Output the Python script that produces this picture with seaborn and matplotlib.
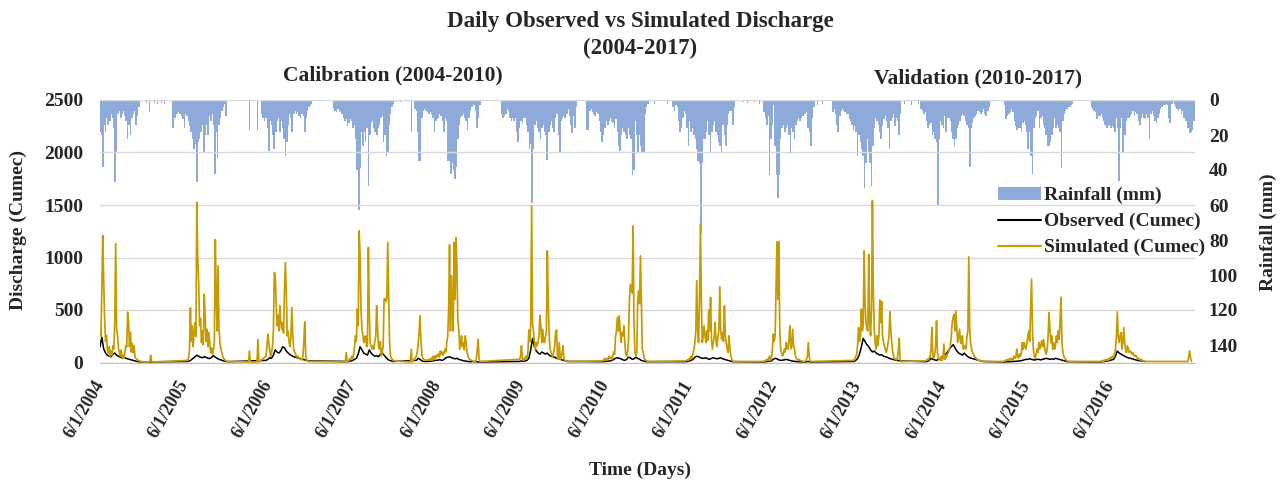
import numpy as np
import pandas as pd
import matplotlib
matplotlib.use('Agg')
import matplotlib.pyplot as plt
from matplotlib.patches import Patch
from matplotlib.lines import Line2D
import seaborn as sns

# day 0 = 6/1/2004, series (one list per wet season)
START = pd.Timestamp('2004-06-01')

# simulated discharge (cumec), one value every 4 days from the season start day
sim_start = [0, 380, 720, 1080, 1372, 1820, 2180, 2540, 2880, 3270, 3580, 3920, 4340]
sim_2004 = [300, 250, 700, 1210, 780, 420, 200, 260, 120, 90, 150, 60, 110, 70, 160, 130, 380, 1130, 320, 260,
            140, 90, 60, 120, 50, 70, 40, 90, 160, 150, 480, 380, 150, 290, 100, 180, 90, 160, 50, 40,
            30, 20, 20, 15, 10, 10, 8, 8, 6, 6, 5, 5, 5, 5, 10, 70, 10, 5]
sim_2005 = [20, 40, 120, 520, 200, 350, 150, 280, 380, 250, 1525, 1000, 760, 350, 420, 190, 300, 170, 650, 445,
            200, 317, 150, 285, 190, 95, 140, 80, 120, 200, 1170, 635, 300, 920, 317, 190, 130, 95, 63, 40,
            30, 20, 15, 10, 10]
sim_2006 = [60, 150, 270, 190, 120, 60, 90, 150, 300, 857, 825, 570, 350, 450, 300, 540, 380, 317, 380, 280,
            700, 952, 667, 254, 300, 190, 150, 250, 524, 254, 127, 100, 80, 60, 50, 60, 40, 30, 30, 25,
            60, 200, 387, 80, 20, 15, 10]
sim_2007 = [20, 40, 30, 60, 40, 80, 150, 254, 200, 508, 350, 1254, 1000, 508, 317, 260, 190, 240, 254, 150,
            160, 1095, 476, 190, 150, 127, 160, 127, 200, 250, 540, 317, 150, 127, 200, 63, 100, 150, 603, 610,
            580, 610, 1143, 635, 190, 63, 40, 30, 20, 15]
sim_2008 = [60, 100, 175, 300, 445, 200, 80, 40, 30, 20, 25, 20, 25, 20, 30, 25, 40, 20, 60, 30,
            63, 40, 70, 60, 80, 50, 110, 80, 100, 70, 90, 127, 100, 190, 250, 500, 1120, 300, 825, 508,
            300, 1143, 600, 1190, 920, 400, 317, 127, 180, 254, 150, 190, 120, 254, 190, 100, 60, 40, 30, 25,
            20, 15, 10, 10, 10, 30, 120, 222, 30, 10]
sim_2009 = [30, 63, 160, 30, 20, 40, 30, 60, 40, 100, 310, 200, 350, 1490, 365, 300, 200, 127, 190, 160,
            200, 254, 450, 350, 190, 317, 200, 190, 250, 300, 1063, 603, 254, 127, 100, 63, 60, 100, 160, 286,
            310, 60, 30, 190, 30, 40, 95, 160, 40, 20, 15, 10, 10]
sim_2010 = [15, 20, 40, 30, 20, 40, 30, 60, 40, 50, 30, 60, 100, 80, 250, 300, 430, 300, 445, 300,
            190, 286, 254, 350, 190, 80, 60, 100, 200, 600, 745, 700, 660, 1300, 350, 95, 63, 100, 587, 680,
            560, 1016, 570, 127, 95, 40, 30, 20, 15, 10]
sim_2011 = [15, 20, 25, 20, 40, 30, 60, 40, 95, 120, 190, 300, 780, 317, 190, 600, 1318, 600, 190, 250,
            350, 254, 190, 300, 210, 500, 300, 620, 220, 127, 190, 254, 380, 190, 150, 250, 300, 724, 317, 220,
            286, 200, 540, 254, 190, 127, 95, 254, 127, 60, 30, 15, 10]
sim_2012 = [10, 20, 15, 30, 20, 40, 60, 20, 40, 120, 270, 200, 254, 700, 1150, 600, 1150, 317, 127, 95,
            63, 80, 127, 100, 190, 130, 127, 220, 350, 130, 150, 317, 160, 127, 63, 40, 30, 20, 30, 20,
            15, 15, 10, 10, 10, 15, 30, 60, 190, 60, 10]
sim_2013 = [20, 40, 60, 80, 175, 333, 200, 250, 508, 300, 350, 1063, 570, 380, 317, 300, 1030, 400, 254, 500,
            1540, 667, 317, 190, 127, 254, 160, 254, 595, 380, 580, 254, 190, 160, 127, 95, 127, 190, 254, 482,
            300, 190, 95, 60, 40, 30, 25, 40, 100, 230, 30, 10]
sim_2014 = [15, 20, 30, 25, 40, 60, 120, 333, 60, 40, 80, 150, 397, 100, 40, 30, 20, 60, 20, 40,
            175, 30, 40, 60, 80, 100, 127, 160, 254, 380, 430, 460, 300, 490, 317, 190, 254, 317, 190, 180,
            254, 127, 150, 160, 127, 254, 300, 1006, 317, 190, 127, 95, 80, 60, 50, 40, 30, 25, 20, 20,
            15, 15, 10]
sim_2015 = [10, 20, 15, 25, 20, 30, 20, 40, 25, 40, 30, 60, 40, 50, 127, 60, 40, 80, 60, 95,
            190, 127, 190, 150, 127, 190, 254, 300, 200, 500, 794, 317, 127, 60, 40, 80, 127, 95, 190, 127,
            160, 206, 150, 220, 160, 100, 80, 127, 254, 476, 317, 190, 254, 127, 190, 127, 160, 254, 190, 300,
            220, 400, 620, 190, 95, 63, 40, 30, 20, 15, 10]
sim_2016 = [10, 15, 10, 20, 15, 30, 20, 30, 20, 40, 30, 50, 40, 60, 50, 80, 127, 250, 482, 254,
            190, 254, 286, 127, 190, 333, 190, 127, 95, 160, 127, 95, 110, 95, 80, 95, 63, 60, 70, 50,
            40, 40, 30, 25, 30, 20, 15, 10, 10]
# short dry-season flow blips (same 4-day step)
blip_start = [644, 681, 1064, 1346, 4718]
sim_blips = [[5, 110, 5], [5, 220, 5], [5, 95, 5], [5, 127, 5], [10, 63, 111, 40, 10]]

# observed discharge (cumec), one value every 8 days from the same season start days
obs_2004 = [150, 240, 130, 90, 70, 60, 55, 80, 90, 70, 60, 50, 45, 50, 40, 35, 30, 25, 20, 15, 10, 8, 5, 5]
obs_2005 = [10, 15, 25, 40, 55, 70, 60, 50, 45, 55, 50, 40, 38, 50, 65, 50, 40, 30, 25, 18, 12, 10, 8]
obs_2006 = [20, 30, 45, 40, 70, 120, 100, 90, 110, 150, 140, 110, 90, 75, 65, 55, 50, 45, 40, 35, 30, 25, 20, 15]
obs_2007 = [10, 15, 20, 30, 40, 80, 150, 120, 90, 80, 70, 120, 90, 70, 60, 65, 55, 80, 90, 70, 50, 30, 20, 15, 10]
obs_2008 = [20, 40, 30, 15, 10, 10, 10, 12, 15, 15, 20, 20, 25, 25, 20, 30, 45, 50, 55, 45, 40, 35, 40, 30,
            25, 20, 15, 12, 10, 8, 8, 10, 8, 6, 5, 5]
obs_2009 = [10, 15, 12, 15, 20, 40, 120, 230, 150, 110, 90, 80, 100, 90, 80, 90, 70, 60, 55, 50, 40, 35, 30,
            25, 20, 15, 10]
obs_2010 = [8, 10, 12, 15, 15, 20, 30, 40, 45, 40, 35, 25, 20, 30, 50, 45, 30, 35, 50, 40, 30, 20, 15, 10, 8]
obs_2011 = [8, 10, 15, 20, 30, 50, 60, 55, 45, 40, 40, 45, 35, 30, 40, 45, 40, 35, 40, 45, 35, 30, 25, 20,
            15, 10, 8]
obs_2012 = [5, 8, 10, 12, 15, 30, 40, 35, 25, 20, 22, 25, 30, 25, 20, 15, 12, 10, 8, 8, 6, 5, 5, 8, 10, 5]
obs_2013 = [10, 20, 40, 80, 150, 230, 200, 170, 150, 120, 100, 110, 90, 80, 70, 75, 60, 55, 50, 40, 35, 30,
            25, 20, 20, 15]
obs_2014 = [8, 10, 20, 40, 30, 25, 20, 30, 40, 50, 60, 80, 100, 130, 150, 170, 140, 110, 90, 80, 70, 90, 70,
            55, 45, 40, 35, 30, 25, 20, 15, 10]
obs_2015 = [5, 6, 8, 8, 10, 10, 12, 12, 15, 15, 20, 25, 30, 30, 35, 30, 25, 25, 30, 30, 25, 30, 35, 40, 35,
            30, 35, 30, 40, 35, 30, 25, 20, 15, 10, 8]
obs_2016 = [5, 8, 10, 12, 15, 20, 25, 30, 60, 110, 90, 80, 70, 60, 50, 45, 40, 35, 30, 25, 20, 18, 15, 12, 10]

# rainfall (mm), one value every 6 days from the season start day
rain_start = [0, 318, 702, 1014, 1366, 1742, 2112, 2486, 2880, 3178, 3562, 3924, 4300]
rain_2004 = [18, 20, 38, 14, 18, 10, 14, 12, 8, 10, 16, 47, 30, 8, 6, 10, 8, 6, 9, 12, 22, 14, 20, 10, 8, 6,
             14, 9, 4]
rain_2005 = [16, 10, 8, 8, 7, 8, 9, 11, 16, 8, 9, 12, 15, 18, 22, 28, 25, 47, 24, 22, 18, 14, 30, 20, 14, 20,
             9, 12, 8, 14, 42, 18, 33, 14, 10, 6, 4, 2, 9]
rain_2006 = [8, 10, 12, 10, 16, 29, 12, 14, 20, 28, 18, 12, 10, 18, 12, 16, 22, 32, 24, 14, 8, 10, 18, 8, 6,
             8, 7, 9, 10, 8, 9, 18, 10, 6, 4, 3, 2]
rain_2007 = [5, 6, 7, 5, 7, 6, 8, 10, 12, 11, 15, 13, 11, 12, 16, 14, 22, 40, 63, 39, 18, 26, 18, 24, 16, 49,
             20, 13, 12, 16, 18, 20, 16, 14, 10, 9, 24, 20, 32, 30, 14, 8, 4, 2]
rain_2008 = [5, 6, 18, 35, 35, 10, 6, 5, 6, 7, 8, 7, 8, 10, 18, 12, 11, 10, 8, 9, 12, 18, 10, 12, 35, 35, 42,
             36, 40, 45, 38, 22, 14, 10, 9, 8, 10, 12, 17, 10, 6, 4, 3, 3, 6, 16, 10, 3]
rain_2009 = [8, 10, 9, 8, 5, 6, 10, 12, 10, 12, 10, 18, 24, 16, 12, 13, 10, 10, 14, 18, 28, 25, 59, 28, 14, 12,
             16, 18, 22, 16, 14, 18, 20, 34, 18, 14, 12, 16, 18, 10, 8, 20, 30, 12, 10, 9, 10, 8, 5, 9, 14,
             19, 9, 16, 4]
rain_2010 = [17, 17, 6, 5, 7, 8, 9, 7, 8, 12, 18, 24, 20, 16, 12, 14, 12, 10, 12, 13, 16, 11, 18, 26, 29, 20,
             16, 18, 20, 22, 16, 20, 22, 43, 40, 12, 20, 30, 20, 26, 30, 30, 8, 4, 2]
rain_2011 = [4, 6, 3, 4, 12, 18, 16, 10, 6, 8, 16, 26, 12, 18, 16, 20, 22, 28, 35, 36, 76, 36, 22, 22, 18, 12,
             20, 30, 18, 14, 12, 18, 20, 24, 26, 30, 14, 20, 26, 14, 8, 6, 6, 14, 4]
rain_2012 = [7, 10, 14, 9, 43, 22, 14, 3, 26, 43, 56, 43, 22, 16, 14, 18, 16, 14, 20, 31, 16, 18, 22, 14, 12,
             10, 12, 10, 9, 8, 8, 7, 16, 18, 26, 10, 4]
rain_2013 = [7, 5, 8, 14, 18, 9, 6, 5, 6, 7, 8, 8, 11, 12, 14, 17, 15, 18, 32, 20, 24, 28, 32, 50, 36, 22, 30,
             36, 49, 26, 16, 10, 12, 14, 18, 22, 15, 11, 9, 12, 16, 28, 12, 10, 8, 15, 10, 12, 20, 8]
rain_2014 = [5, 6, 8, 7, 12, 16, 14, 13, 20, 18, 22, 24, 60, 22, 12, 14, 16, 9, 18, 10, 10, 12, 18, 22, 26, 22,
             16, 14, 12, 9, 8, 9, 12, 14, 16, 38, 16, 13, 10, 9, 8, 6, 7, 8, 7, 5, 8, 9, 6, 4]
rain_2015 = [3, 11, 9, 8, 7, 5, 7, 12, 15, 17, 16, 16, 18, 13, 12, 14, 18, 28, 18, 32, 42, 16, 10, 9, 6, 16,
             10, 9, 14, 16, 20, 26, 26, 24, 20, 16, 10, 16, 14, 16, 18, 39, 12, 8, 6, 5, 4, 4, 3, 2]
rain_2016 = [4, 5, 6, 7, 11, 9, 9, 8, 10, 12, 14, 16, 15, 14, 16, 15, 16, 18, 10, 16, 46, 16, 10, 30, 20, 12,
             10, 10, 9, 8, 6, 9, 7, 8, 12, 14, 10, 8, 10, 11, 8, 10, 22, 8, 6, 9, 12, 13, 10, 8, 5, 4, 3, 3,
             2, 3, 10, 13, 2, 1, 2, 4, 5, 6, 5, 8, 6, 10, 12, 12, 16, 19, 18, 17, 12]
# isolated dry-season showers
rain_dot_days = [200, 215, 235, 250, 265, 280, 648, 685, 1285, 1305, 1350, 2405, 2463, 2790, 2810, 2840,
                 2860, 3110, 3135, 3490, 3520, 3550]
rain_dot_mm = [1.5, 7, 1.5, 2, 1.5, 2, 17, 17, 1, 1, 18, 2, 2, 1, 1.5, 1, 2, 3, 2, 2, 3, 2]

sim_seasons = [sim_2004, sim_2005, sim_2006, sim_2007, sim_2008, sim_2009, sim_2010,
               sim_2011, sim_2012, sim_2013, sim_2014, sim_2015, sim_2016]
obs_seasons = [obs_2004, obs_2005, obs_2006, obs_2007, obs_2008, obs_2009, obs_2010,
               obs_2011, obs_2012, obs_2013, obs_2014, obs_2015, obs_2016]
rain_seasons = [rain_2004, rain_2005, rain_2006, rain_2007, rain_2008, rain_2009, rain_2010,
                rain_2011, rain_2012, rain_2013, rain_2014, rain_2015, rain_2016]


def expand(starts, seqs, step):
    """Turn season start days + stepped value lists into a date-indexed frame"""
    days, vals = [], []
    for s, seq in zip(starts, seqs):
        days.extend(s + step * np.arange(len(seq)))
        vals.extend(seq)
    df = pd.DataFrame({'day': days, 'value': np.array(vals, dtype=float)})
    df['date'] = START + pd.to_timedelta(df['day'], unit='D')
    return df.sort_values('date').reset_index(drop=True)


sim = expand(sim_start + blip_start, sim_seasons + sim_blips, 4)
obs = expand(sim_start, obs_seasons, 8)
rain = expand(rain_start, rain_seasons, 6)
rain_dots = pd.DataFrame({'date': START + pd.to_timedelta(rain_dot_days, unit='D'), 'value': rain_dot_mm})

RAIN_C = '#8eaadb'
SIM_C = '#c59b00'
GRID_C = '#d9d9d9'

sns.set_style('white')
plt.rcParams['font.family'] = ['Liberation Serif', 'DejaVu Serif']
plt.rcParams['font.weight'] = 'bold'

W, H = 1285, 487
fig = plt.figure(figsize=(W / 100, H / 100), dpi=100)
ax = fig.add_axes([100 / W, 1 - 362.5 / H, 1095 / W, 262.5 / H])
ax2 = ax.twinx()

# rainfall hangs from the top on an inverted right axis
ax2.bar(rain['date'], rain['value'], width=7.2, color=RAIN_C, linewidth=0)
ax2.bar(rain_dots['date'], rain_dots['value'], width=4, color=RAIN_C, linewidth=0)
ax2.set_ylim(150, 0)
ax2.set_yticks(np.arange(0, 141, 20))

ax.set_zorder(ax2.get_zorder() + 1)
ax.patch.set_visible(False)
sns.lineplot(data=obs, x='date', y='value', ax=ax, color='black', lw=1.1, estimator=None, sort=True)
sns.lineplot(data=sim, x='date', y='value', ax=ax, color=SIM_C, lw=1.25, estimator=None, sort=True)

ax.set_ylim(0, 2500)
ax.set_yticks(np.arange(0, 2501, 500))
ax.set_xlim(START, START + pd.Timedelta(days=4749))
ax.yaxis.grid(True, color=GRID_C, lw=1.0)
ax.set_axisbelow(True)

ticks = pd.date_range('2004-06-01', '2017-06-01', freq='12MS')
labels = [f'{d.month}/{d.day}/{d.year}' for d in ticks[:-1]] + ['']
ax.set_xticks(ticks)
ax.set_xticklabels(labels, rotation=60, ha='right', va='center', rotation_mode='anchor', fontsize=13)
ax.tick_params(axis='x', length=5, color='#bfbfbf', pad=9)
ax.tick_params(axis='y', length=0, labelsize=14, pad=12)
ax2.tick_params(axis='y', length=0, labelsize=14, pad=10)
ax.set_xlabel('')
ax.set_ylabel('')

for a in (ax, ax2):
    for side in ('top', 'left', 'right'):
        a.spines[side].set_visible(False)
ax.spines['bottom'].set_color('#bfbfbf')
ax2.spines['bottom'].set_visible(False)

# titles and axis labels
fig.text(640 / W, 1 - 22 / H, 'Daily Observed vs Simulated Discharge', ha='center', va='center',
         fontsize=16.5, fontweight='bold')
fig.text(640 / W, 1 - 48 / H, '(2004-2017)', ha='center', va='center', fontsize=16.5, fontweight='bold')
fig.text(393 / W, 1 - 75 / H, 'Calibration (2004-2010)', ha='center', va='center', fontsize=15.5,
         fontweight='bold')
fig.text(978 / W, 1 - 78 / H, 'Validation (2010-2017)', ha='center', va='center', fontsize=15.5,
         fontweight='bold')
fig.text(18 / W, 1 - 230 / H, 'Discharge (Cumec)', rotation=90, ha='center', va='center', fontsize=14,
         fontweight='bold')
fig.text(1268 / W, 1 - 232 / H, 'Rainfall (mm)', rotation=90, ha='center', va='center', fontsize=14,
         fontweight='bold')
fig.text(640 / W, 1 - 470 / H, 'Time (Days)', ha='center', va='center', fontsize=14, fontweight='bold')

handles = [Patch(facecolor=RAIN_C, edgecolor='none'),
           Line2D([], [], color='black', lw=1.5),
           Line2D([], [], color=SIM_C, lw=1.5)]
fig.legend(handles, ['Rainfall (mm)', 'Observed (Cumec)', 'Simulated (Cumec)'],
           loc='upper left', bbox_to_anchor=(998 / W, 1 - 187 / H), frameon=False, fontsize=14,
           handlelength=2.2, handleheight=0.6, handletextpad=0.15, labelspacing=0.45, borderpad=0,
           borderaxespad=0)

fig.savefig('out.png', dpi=100)
